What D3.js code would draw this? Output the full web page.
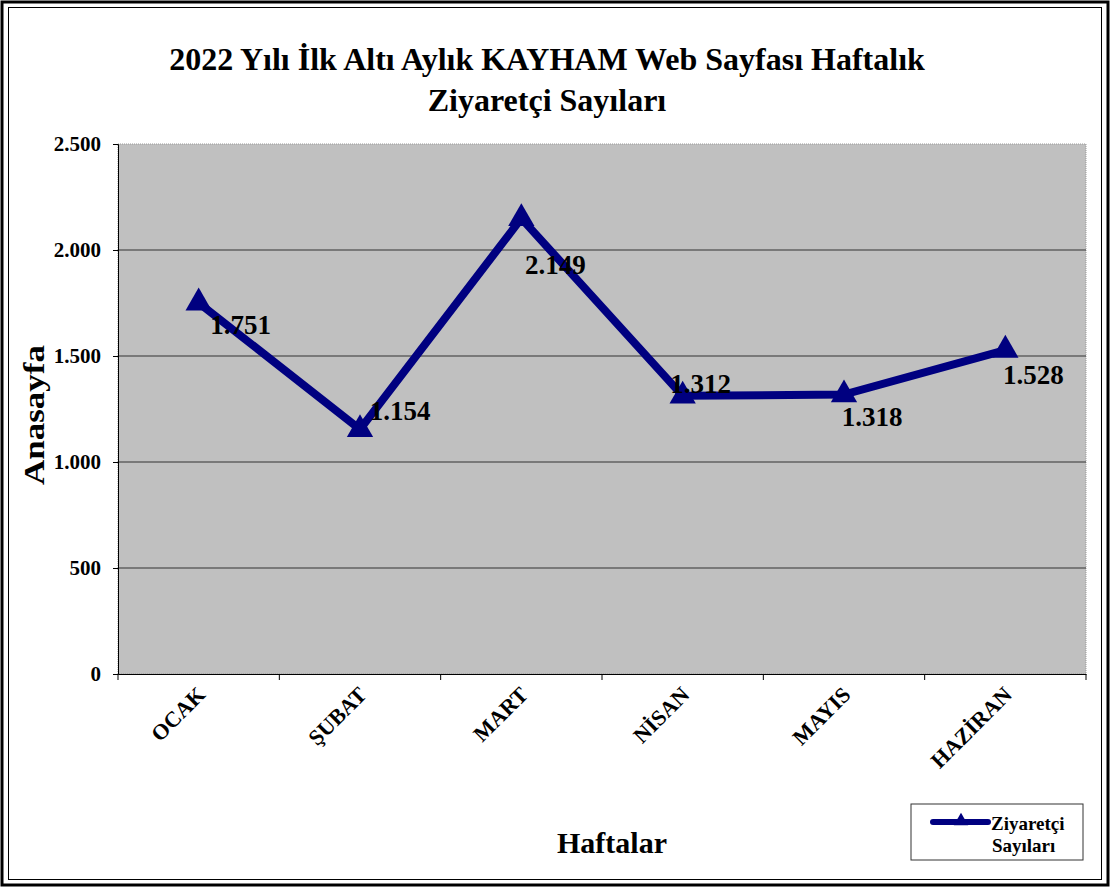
<!DOCTYPE html>
<html>
<head>
<meta charset="utf-8">
<script src="https://cdn.jsdelivr.net/npm/d3@7"></script>
<style>
  body { margin: 0; background: #fff; }
  text { font-family: "Liberation Serif", "Times New Roman", serif; font-weight: bold; }
</style>
</head>
<body>
<div id="chart"></div>
<script>
// data
const months = ['OCAK', 'ŞUBAT', 'MART', 'NİSAN', 'MAYIS', 'HAZİRAN']
const visitors = [1751, 1154, 2149, 1312, 1318, 1528]
const yTicks = [0, 500, 1000, 1500, 2000, 2500]

// where Excel put each value label, relative to its point
const labelOffsets = [[42, 31], [40, -9], [34, 56], [18, -3], [28, 31], [28, 34]]

const width = 1110, height = 887
const margin = { top: 144, right: 24, bottom: 213, left: 118 }

const svg = d3.select('#chart').append('svg')
    .attr('width', width)
    .attr('height', height)

// double frame
svg.append('rect').attr('x', 2).attr('y', 2).attr('width', width - 4).attr('height', height - 4)
    .attr('fill', 'none').attr('stroke', '#000').attr('stroke-width', 3)
svg.append('rect').attr('x', 8.5).attr('y', 7.5).attr('width', width - 17).attr('height', height - 15)
    .attr('fill', 'none').attr('stroke', '#000').attr('stroke-width', 1)

const x = d3.scaleBand()
    .domain(months)
    .range([margin.left, width - margin.right])

const y = d3.scaleLinear()
    .domain([0, 2500])
    .range([height - margin.bottom, margin.top])

const fmt = v => d3.format(',')(v).replace(/,/g, '.')

// plot area
svg.append('rect')
    .attr('x', x.range()[0]).attr('y', y(2500))
    .attr('width', x.range()[1] - x.range()[0]).attr('height', y(0) - y(2500))
    .attr('fill', '#c0c0c0')
    .attr('stroke', '#999').attr('stroke-dasharray', '1,1')

// gridlines
svg.append('g').selectAll('line')
    .data(yTicks.filter(t => t > 0 && t < 2500))
    .enter().append('line')
    .attr('x1', x.range()[0]).attr('x2', x.range()[1])
    .attr('y1', d => y(d)).attr('y2', d => y(d))
    .attr('stroke', '#333').attr('stroke-width', 1)

// y axis
const yAxis = svg.append('g')
    .attr('transform', `translate(${margin.left},0)`)
    .call(d3.axisLeft(y).tickValues(yTicks).tickFormat(fmt).tickSize(5).tickPadding(12))
yAxis.select('.domain').attr('stroke', '#000')
yAxis.selectAll('text').attr('font-size', 21).attr('fill', '#000')
    .style('font-family', '"Liberation Serif", serif').style('font-weight', 'bold')

// x axis
const xAxis = svg.append('g')
    .attr('transform', `translate(0,${y(0)})`)
    .call(d3.axisBottom(x).tickSize(0).tickFormat(''))
xAxis.select('.domain').attr('stroke', '#000')
svg.append('g').selectAll('line')
    .data(d3.range(months.length + 1))
    .enter().append('line')
    .attr('x1', i => x.range()[0] + i * x.step()).attr('x2', i => x.range()[0] + i * x.step())
    .attr('y1', y(0)).attr('y2', y(0) + 6)
    .attr('stroke', '#000')

svg.append('g').selectAll('text')
    .data(months)
    .enter().append('text')
    .attr('transform', d => `translate(${x(d) + x.bandwidth() / 2 + 8},${y(0) + 22}) rotate(-45)`)
    .attr('text-anchor', 'end')
    .attr('font-size', 22)
    .text(d => d)

// line
const line = d3.line()
    .x((d, i) => x(months[i]) + x.bandwidth() / 2)
    .y(d => y(d))

svg.append('path')
    .datum(visitors)
    .attr('d', line)
    .attr('fill', 'none')
    .attr('stroke', '#000080')
    .attr('stroke-width', 8)
    .attr('stroke-linejoin', 'miter')

const tri = d3.symbol().type(d3.symbolTriangle).size(300)
svg.append('g').selectAll('path')
    .data(visitors)
    .enter().append('path')
    .attr('d', tri)
    .attr('transform', (d, i) => `translate(${x(months[i]) + x.bandwidth() / 2},${y(d)})`)
    .attr('fill', '#000080')

svg.append('g').selectAll('text')
    .data(visitors)
    .enter().append('text')
    .attr('x', (d, i) => x(months[i]) + x.bandwidth() / 2 + labelOffsets[i][0])
    .attr('y', (d, i) => y(d) + labelOffsets[i][1])
    .attr('text-anchor', 'middle')
    .attr('font-size', 27)
    .text(d => fmt(d))

// titles
svg.append('text').attr('x', 547).attr('y', 70).attr('text-anchor', 'middle').attr('font-size', 32)
    .text('2022 Yılı İlk Altı Aylık KAYHAM Web Sayfası Haftalık')
svg.append('text').attr('x', 547).attr('y', 111).attr('text-anchor', 'middle').attr('font-size', 32)
    .text('Ziyaretçi Sayıları')

svg.append('text')
    .attr('transform', 'translate(44,415) rotate(-90)')
    .attr('text-anchor', 'middle').attr('font-size', 29)
    .attr('textLength', 140).attr('lengthAdjust', 'spacingAndGlyphs')
    .text('Anasayfa')

svg.append('text').attr('x', 612).attr('y', 853).attr('text-anchor', 'middle').attr('font-size', 30)
    .text('Haftalar')

// legend
const legend = svg.append('g').attr('transform', 'translate(911,804)')
legend.append('rect').attr('width', 172).attr('height', 56)
    .attr('fill', '#fff').attr('stroke', '#333').attr('stroke-width', 1)
legend.append('line').attr('x1', 22).attr('x2', 77).attr('y1', 18).attr('y2', 18)
    .attr('stroke', '#000080').attr('stroke-width', 6).attr('stroke-linecap', 'round')
legend.append('path').attr('d', d3.symbol().type(d3.symbolTriangle).size(90))
    .attr('transform', 'translate(50,17)').attr('fill', '#000080')
legend.append('text').attr('x', 80).attr('y', 26).attr('font-size', 19).text('Ziyaretçi')
legend.append('text').attr('x', 81).attr('y', 48).attr('font-size', 19).text('Sayıları')
</script>
</body>
</html>
